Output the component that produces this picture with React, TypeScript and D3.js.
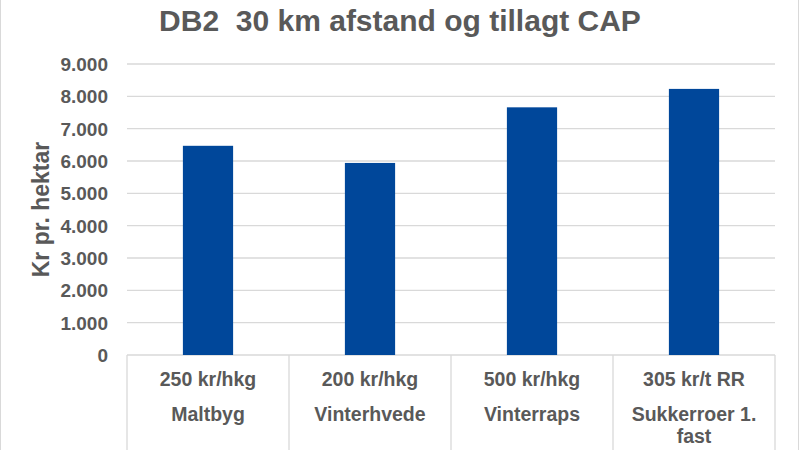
import React, { useRef, useEffect } from 'react';
import * as d3 from 'd3';

const prices: string[] = ['250 kr/hkg', '200 kr/hkg', '500 kr/hkg', '305 kr/t RR'];
const crops: string[] = ['Maltbyg', 'Vinterhvede', 'Vinterraps', 'Sukkerroer 1. fast'];
const values: number[] = [6470, 5940, 7660, 8230];
const yTicks: number[] = [0, 1000, 2000, 3000, 4000, 5000, 6000, 7000, 8000, 9000];

const WIDTH = 800;
const HEIGHT = 450;
const TEXT = '#595959';
const GRID = '#d9d9d9';
const BAR = '#00479a';
const FONT = 'Liberation Sans, Arial, sans-serif';

const App: React.FC = () => {
    const svgRef = useRef<SVGSVGElement | null>(null);

    useEffect(() => {
        if (!svgRef.current) return;
        const svg = d3.select(svgRef.current);
        svg.selectAll('*').remove();

        const margin = { top: 64, right: 25, bottom: 95, left: 127 };
        const innerW = WIDTH - margin.left - margin.right;
        const innerH = HEIGHT - margin.top - margin.bottom;

        const cell = d3
            .scaleBand<string>()
            .domain(crops)
            .range([margin.left, margin.left + innerW])
            .padding(0);

        const x = d3
            .scaleBand<string>()
            .domain(crops)
            .range([margin.left, margin.left + innerW])
            .paddingInner(0.69)
            .paddingOuter(0.345);

        const y = d3
            .scaleLinear()
            .domain([0, 9000])
            .range([margin.top + innerH, margin.top]);

        const fmt = (v: number) =>
            v === 0 ? '0' : d3.format(',')(v).replace(/,/g, '.');

        // frame
        svg.append('rect')
            .attr('x', 0.5)
            .attr('y', -2)
            .attr('width', WIDTH - 2)
            .attr('height', HEIGHT + 4)
            .attr('fill', 'white')
            .attr('stroke', GRID);

        // title
        svg.append('text')
            .attr('x', WIDTH / 2)
            .attr('y', 31)
            .attr('text-anchor', 'middle')
            .attr('font-family', FONT)
            .attr('font-weight', 'bold')
            .attr('font-size', 30)
            .attr('fill', TEXT)
            .style('white-space', 'pre')
            .text('DB2  30 km afstand og tillagt CAP');

        // gridlines
        svg.append('g')
            .selectAll('line')
            .data(yTicks)
            .enter()
            .append('line')
            .attr('x1', margin.left)
            .attr('x2', margin.left + innerW)
            .attr('y1', (d) => y(d))
            .attr('y2', (d) => y(d))
            .attr('stroke', GRID)
            .attr('stroke-width', 1.3);

        // y tick labels
        svg.append('g')
            .selectAll('text')
            .data(yTicks)
            .enter()
            .append('text')
            .attr('x', 108)
            .attr('y', (d) => y(d))
            .attr('dy', '0.36em')
            .attr('text-anchor', 'end')
            .attr('font-family', FONT)
            .attr('font-weight', 'bold')
            .attr('font-size', 19)
            .attr('fill', TEXT)
            .text((d) => fmt(d));

        // y axis title
        svg.append('text')
            .attr(
                'transform',
                `translate(49,${margin.top + innerH / 2 - 0}) rotate(-90)`,
            )
            .attr('text-anchor', 'middle')
            .attr('font-family', FONT)
            .attr('font-weight', 'bold')
            .attr('font-size', 23)
            .attr('fill', TEXT)
            .text('Kr pr. hektar');

        // category cell separators
        const edges = crops
            .map((c) => cell(c)!)
            .concat([margin.left + innerW]);
        svg.append('g')
            .selectAll('line')
            .data(edges)
            .enter()
            .append('line')
            .attr('x1', (d) => d)
            .attr('x2', (d) => d)
            .attr('y1', y(0))
            .attr('y2', HEIGHT)
            .attr('stroke', GRID)
            .attr('stroke-width', 1.3);

        // bars
        svg.append('g')
            .selectAll('rect')
            .data(values)
            .enter()
            .append('rect')
            .attr('x', (_, i) => x(crops[i])!)
            .attr('width', x.bandwidth())
            .attr('y', (d) => y(d))
            .attr('height', (d) => y(0) - y(d))
            .attr('fill', BAR);

        // category labels
        const labels = svg
            .append('g')
            .selectAll('g')
            .data(crops)
            .enter()
            .append('g')
            .attr(
                'transform',
                (d) => `translate(${cell(d)! + cell.bandwidth() / 2},0)`,
            )
            .attr('font-family', FONT)
            .attr('font-weight', 'bold')
            .attr('font-size', 19.5)
            .attr('fill', TEXT)
            .attr('text-anchor', 'middle');

        labels
            .append('text')
            .attr('y', 386)
            .text((_, i) => prices[i]);

        const maxW = cell.bandwidth() - 14;
        labels.each(function (d) {
            const g = d3.select(this);
            const words = d.split(' ');
            let line: string[] = [];
            let row = 0;
            let t = g.append('text').attr('y', 421);
            for (const w of words) {
                line.push(w);
                t.text(line.join(' '));
                if (
                    (t.node() as SVGTextElement).getComputedTextLength() >
                        maxW &&
                    line.length > 1
                ) {
                    line.pop();
                    t.text(line.join(' '));
                    line = [w];
                    row += 1;
                    t = g
                        .append('text')
                        .attr('y', 421 + row * 22)
                        .text(w);
                }
            }
        });
    }, []);

    return (
        <svg
            ref={svgRef}
            width={WIDTH}
            height={HEIGHT}
            style={{ position: 'absolute', left: 0, top: 0 }}
        ></svg>
    );
};

export default App;
